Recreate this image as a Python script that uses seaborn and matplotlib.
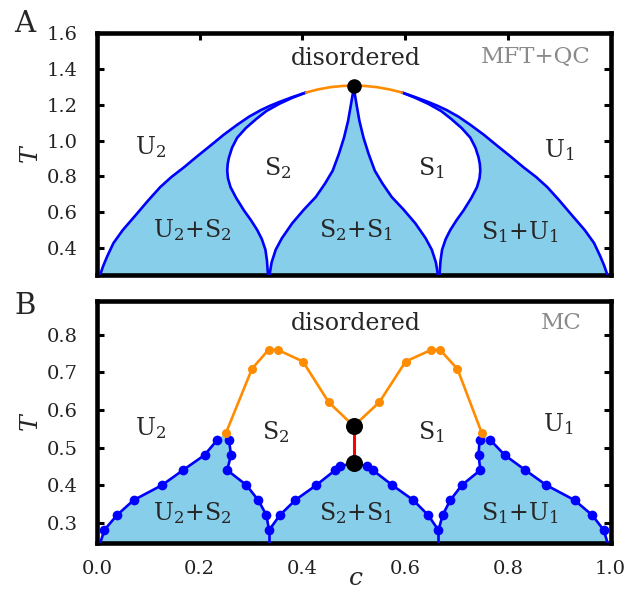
import numpy as np
import pandas as pd
import matplotlib
matplotlib.use("Agg")
import matplotlib.pyplot as plt
from matplotlib.ticker import FormatStrFormatter
import seaborn as sns

# ---------------- data: panel A (MFT+QC) ----------------
a_outer_left_c = [0.006, 0.012, 0.02, 0.032, 0.05, 0.078, 0.10, 0.123, 0.145, 0.169, 0.195,
                  0.221, 0.247, 0.273, 0.296, 0.319, 0.337, 0.354, 0.38, 0.407]
a_outer_left_T = [0.25, 0.30, 0.355, 0.428, 0.50, 0.593, 0.667, 0.740, 0.797, 0.850, 0.912,
                  0.972, 1.033, 1.088, 1.133, 1.170, 1.194, 1.214, 1.242, 1.268]
a_top_c = [0.407, 0.43, 0.455, 0.48, 0.5, 0.52, 0.545, 0.57, 0.594]
a_top_T = [1.268, 1.285, 1.298, 1.305, 1.307, 1.305, 1.298, 1.285, 1.268]
a_outer_right_c = [0.594, 0.62, 0.646, 0.663, 0.681, 0.704, 0.727, 0.753, 0.779, 0.805, 0.831,
                   0.855, 0.877, 0.90, 0.922, 0.95, 0.968, 0.98, 0.988, 0.994]
a_outer_right_T = [1.268, 1.242, 1.214, 1.194, 1.170, 1.133, 1.088, 1.033, 0.972, 0.912, 0.850,
                   0.797, 0.740, 0.667, 0.593, 0.50, 0.428, 0.355, 0.30, 0.25]
a_inner_left_c = [0.407, 0.38, 0.355, 0.33, 0.31, 0.29, 0.273, 0.263, 0.257, 0.2545, 0.2536,
                  0.255, 0.26, 0.271, 0.286, 0.30, 0.312, 0.321, 0.328, 0.331, 0.333]
a_inner_left_T = [1.268, 1.238, 1.205, 1.165, 1.12, 1.07, 1.016, 0.96, 0.906, 0.87, 0.832,
                  0.79, 0.74, 0.68, 0.611, 0.555, 0.501, 0.45, 0.391, 0.33, 0.25]
a_inner_right_c = [0.594, 0.62, 0.645, 0.67, 0.69, 0.71, 0.727, 0.737, 0.743, 0.7455, 0.7464,
                   0.745, 0.74, 0.729, 0.714, 0.70, 0.688, 0.679, 0.672, 0.669, 0.667]
a_inner_right_T = [1.268, 1.238, 1.205, 1.165, 1.12, 1.07, 1.016, 0.96, 0.906, 0.87, 0.832,
                   0.79, 0.74, 0.68, 0.611, 0.555, 0.501, 0.45, 0.391, 0.33, 0.25]
a_cusp_c = [0.336, 0.34, 0.348, 0.36, 0.38, 0.403, 0.426, 0.444, 0.459, 0.471, 0.481, 0.489, 0.4945, 0.498, 0.5,
            0.502, 0.5055, 0.511, 0.519, 0.529, 0.541, 0.556, 0.574, 0.597, 0.62, 0.64, 0.652, 0.66, 0.664]
a_cusp_T = [0.25, 0.32, 0.391, 0.455, 0.538, 0.615, 0.685, 0.76, 0.832, 0.925, 1.016, 1.11, 1.2, 1.26, 1.307,
            1.26, 1.2, 1.11, 1.016, 0.925, 0.832, 0.76, 0.685, 0.615, 0.538, 0.455, 0.391, 0.32, 0.25]
a_crit_c = [0.5]
a_crit_T = [1.307]

# ---------------- data: panel B (MC) ----------------
b_u2_c = [0.0, 0.0146, 0.0387, 0.0713, 0.1266, 0.1676, 0.2094, 0.234]
b_u2_T = [0.22, 0.281, 0.32, 0.36, 0.40, 0.44, 0.48, 0.52]
b_mid_c = [0.257, 0.261, 0.2535, 0.291, 0.314, 0.330, 0.335, 0.356, 0.386, 0.427, 0.464, 0.474, 0.5,
           0.526, 0.537, 0.575, 0.616, 0.645, 0.665, 0.673, 0.688, 0.7105, 0.7465, 0.743, 0.745]
b_mid_T = [0.52, 0.48, 0.44, 0.40, 0.36, 0.32, 0.28, 0.32, 0.36, 0.40, 0.44, 0.45, 0.46,
           0.45, 0.44, 0.40, 0.36, 0.32, 0.28, 0.32, 0.36, 0.40, 0.44, 0.48, 0.52]
b_u1_c = [0.766, 0.794, 0.834, 0.875, 0.930, 0.9645, 0.987, 1.0]
b_u1_T = [0.52, 0.48, 0.44, 0.40, 0.36, 0.32, 0.28, 0.22]
b_stem_left_c = [0.335, 0.335]
b_stem_right_c = [0.665, 0.665]
b_stem_T = [0.28, 0.22]
b_ord_c = [0.2515, 0.302, 0.334, 0.352, 0.401, 0.451, 0.5, 0.55, 0.601, 0.651, 0.668, 0.702, 0.749]
b_ord_T = [0.54, 0.71, 0.76, 0.76, 0.729, 0.621, 0.557, 0.621, 0.729, 0.76, 0.76, 0.709, 0.54]
b_red_c = [0.5, 0.5]
b_red_T = [0.458, 0.557]
b_black_c = [0.5, 0.5]
b_black_T = [0.458, 0.557]

a_yticks = [0.4, 0.6, 0.8, 1.0, 1.2, 1.4, 1.6]
b_yticks = [0.3, 0.4, 0.5, 0.6, 0.7, 0.8]
xticks = [0.0, 0.2, 0.4, 0.6, 0.8, 1.0]

BLUE = "#0000FF"
ORANGE = "#FF8C00"
FILL = "#87CEEB"
RED = "#FF0000"
GRAY = "#8a8a8a"

sns.set_style("white")
plt.rcParams["font.family"] = ["DejaVu Serif"]
plt.rcParams["mathtext.fontset"] = "dejavuserif"

W, H = 636, 597
fig = plt.figure(figsize=(W / 100, H / 100), dpi=100)
axA = fig.add_axes([97 / W, 1 - 275 / H, 513.5 / W, 242 / H])
axB = fig.add_axes([97 / W, 1 - 543 / H, 513.5 / W, 242 / H])


def line(ax, c, T, color, lw=1.9, marker=None, ms=6, z=3):
    df = pd.DataFrame({"c": c, "T": T})
    sns.lineplot(data=df, x="c", y="T", ax=ax, sort=False, estimator=None,
                 color=color, lw=lw, marker=marker, markersize=ms,
                 markeredgewidth=0, zorder=z, clip_on=True)


# ---------- Panel A ----------
poly1_c = a_outer_left_c + a_inner_left_c
poly1_T = a_outer_left_T + a_inner_left_T
poly3_c = a_inner_right_c[::-1] + a_outer_right_c
poly3_T = a_inner_right_T[::-1] + a_outer_right_T
for pc, pT in [(poly1_c, poly1_T), (a_cusp_c, a_cusp_T), (poly3_c, poly3_T)]:
    axA.fill(pc, pT, color=FILL, lw=0, zorder=1)

line(axA, a_outer_left_c, a_outer_left_T, BLUE)
line(axA, a_outer_right_c, a_outer_right_T, BLUE)
line(axA, a_inner_left_c, a_inner_left_T, BLUE)
line(axA, a_inner_right_c, a_inner_right_T, BLUE)
line(axA, a_cusp_c, a_cusp_T, BLUE)
line(axA, a_top_c, a_top_T, ORANGE, z=4)
sns.scatterplot(x=a_crit_c, y=a_crit_T, ax=axA, color="black", s=110, linewidth=0, zorder=6)

# ---------- Panel B ----------
polyB_c = b_u2_c + [b_ord_c[0]] + b_mid_c + [b_ord_c[-1]] + b_u1_c
polyB_T = b_u2_T + [b_ord_T[0]] + b_mid_T + [b_ord_T[-1]] + b_u1_T
axB.fill(polyB_c, polyB_T, color=FILL, lw=0, zorder=1)

line(axB, b_stem_left_c, b_stem_T, BLUE)
line(axB, b_stem_right_c, b_stem_T, BLUE)
line(axB, b_u2_c, b_u2_T, BLUE, marker="o", ms=7)
line(axB, b_mid_c, b_mid_T, BLUE, marker="o", ms=7)
line(axB, b_u1_c, b_u1_T, BLUE, marker="o", ms=7)
line(axB, b_ord_c, b_ord_T, ORANGE, marker="o", ms=6.5, z=4)
line(axB, b_red_c, b_red_T, RED, lw=2.2, z=5)
sns.scatterplot(x=b_black_c, y=b_black_T, ax=axB, color="black", s=150, linewidth=0, zorder=6)

# ---------- styling ----------
for ax, yt, ylim, top in [(axA, a_yticks, (0.25, 1.6), True), (axB, b_yticks, (0.246, 0.89), False)]:
    ax.set_xlim(0, 1)
    ax.set_ylim(*ylim)
    ax.set_xticks(xticks)
    ax.set_yticks(yt)
    ax.yaxis.set_major_formatter(FormatStrFormatter("%.1f"))
    ax.xaxis.set_major_formatter(FormatStrFormatter("%.1f"))
    for s in ax.spines.values():
        s.set_linewidth(3.3)
        s.set_color("black")
        s.set_visible(True)
    ax.tick_params(axis="both", direction="in", length=5, width=2.2, color="black",
                   labelsize=14, labelcolor="#222222", top=top, right=True, bottom=True, left=True)
    ax.tick_params(axis="y", pad=14)
    ax.tick_params(axis="x", pad=12)
    ax.set_ylabel("$T$", fontsize=18, rotation=90)
    ax.yaxis.set_label_coords(-0.105, 0.5)
    ax.set_xlabel("")

axA.tick_params(axis="x", labelbottom=False)
axB.set_xlabel("$c$", fontsize=18)
axB.xaxis.set_label_coords(0.503, -0.10)

# region labels
fs = 17
axA.text(0.505, 1.46, "disordered", fontsize=fs, ha="center", va="center")
axA.text(0.855, 1.465, "MFT+QC", fontsize=16.5, ha="center", va="center", color=GRAY)
axA.text(0.105, 0.963, "U$_2$", fontsize=fs, ha="center", va="center")
axA.text(0.351, 0.846, "S$_2$", fontsize=fs, ha="center", va="center")
axA.text(0.652, 0.846, "S$_1$", fontsize=fs, ha="center", va="center")
axA.text(0.901, 0.946, "U$_1$", fontsize=fs, ha="center", va="center")
axA.text(0.185, 0.50, "U$_2$+S$_2$", fontsize=fs, ha="center", va="center")
axA.text(0.505, 0.50, "S$_2$+S$_1$", fontsize=fs, ha="center", va="center")
axA.text(0.823, 0.49, "S$_1$+U$_1$", fontsize=fs, ha="center", va="center")

axB.text(0.505, 0.831, "disordered", fontsize=fs, ha="center", va="center")
axB.text(0.905, 0.831, "MC", fontsize=16.5, ha="center", va="center", color=GRAY)
axB.text(0.105, 0.551, "U$_2$", fontsize=fs, ha="center", va="center")
axB.text(0.347, 0.541, "S$_2$", fontsize=fs, ha="center", va="center")
axB.text(0.651, 0.541, "S$_1$", fontsize=fs, ha="center", va="center")
axB.text(0.898, 0.562, "U$_1$", fontsize=fs, ha="center", va="center")
axB.text(0.185, 0.326, "U$_2$+S$_2$", fontsize=fs, ha="center", va="center")
axB.text(0.505, 0.326, "S$_2$+S$_1$", fontsize=fs, ha="center", va="center")
axB.text(0.823, 0.326, "S$_1$+U$_1$", fontsize=fs, ha="center", va="center")

fig.text(25 / W, 1 - 24 / H, "A", fontsize=21, ha="center", va="center")
fig.text(25 / W, 1 - 306 / H, "B", fontsize=21, ha="center", va="center")

fig.savefig("out.png", dpi=100)
